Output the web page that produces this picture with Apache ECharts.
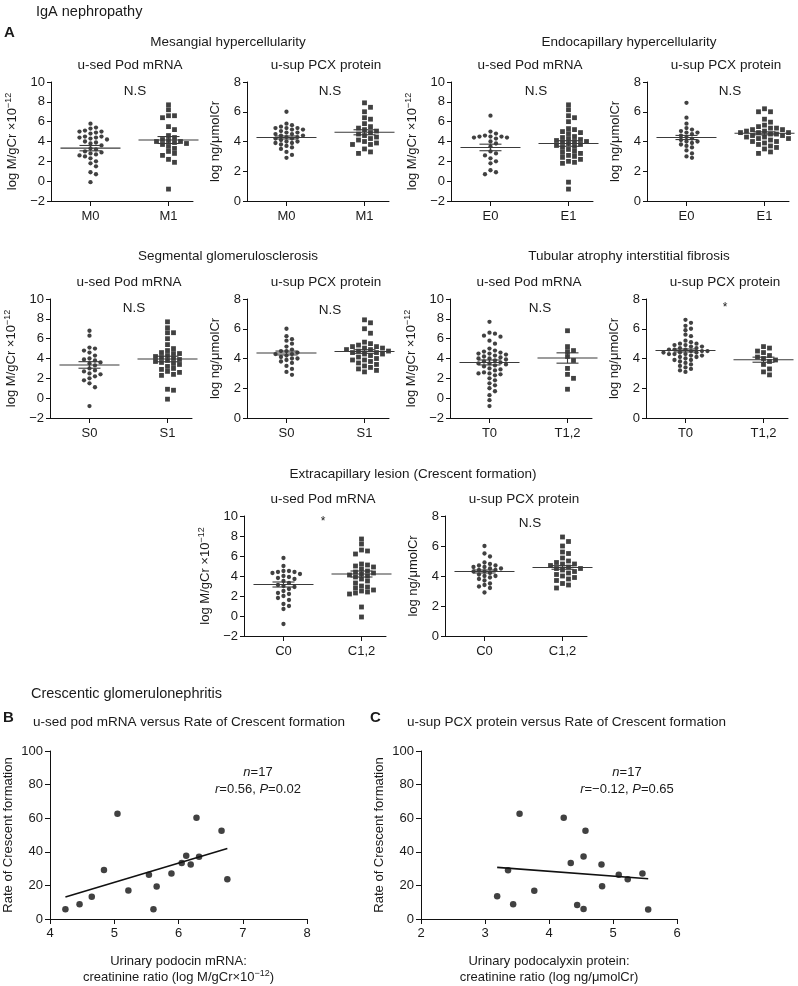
<!DOCTYPE html>
<html><head><meta charset="utf-8">
<script src="https://cdn.jsdelivr.net/npm/echarts@6/dist/echarts.min.js"></script>
<style>html,body{margin:0;padding:0;background:#fff}#c{width:798px;height:986px}</style>
</head><body><div id="c"></div>
<script>
// ---------- categories ----------
const catM = ['M0', 'M1'];
const catE = ['E0', 'E1'];
const catS = ['S0', 'S1'];
const catT = ['T0', 'T1,2'];
const catC = ['C0', 'C1,2'];
// ---------- u-sed Pod mRNA (log M/gCr x10^-12) ----------
const podM0 = [5.8,5.4,5.3,5.1,5.0,5.0,4.9,4.8,4.5,4.5,4.4,4.4,4.3,4.2,4.0,3.9,3.8,3.6,3.3,3.2,3.0,2.9,2.8,2.7,2.6,2.5,2.3,2.0,1.8,1.5,0.9,0.7,-0.1];
const podM1 = [7.7,7.2,6.6,6.6,6.4,5.5,5.2,4.6,4.4,4.2,4.1,4.0,4.0,3.9,3.8,3.7,3.5,3.3,3.0,2.8,2.6,2.2,1.9,-0.8];
const podE0 = [6.6,5.0,4.8,4.6,4.5,4.5,4.5,4.4,4.4,4.3,4.0,3.8,3.5,3.0,2.8,2.6,2.3,2.0,1.8,1.1,0.9,0.7];
const podE1 = [7.7,7.2,6.6,6.4,6.0,5.3,5.2,5.0,4.9,4.8,4.5,4.4,4.3,4.2,4.1,4.0,4.0,3.9,3.8,3.7,3.6,3.5,3.4,3.2,3.0,2.9,2.8,2.6,2.5,2.4,2.2,2.0,1.9,1.8,-0.1,-0.8];
const podS0 = [6.8,6.3,5.1,5.0,4.8,4.6,4.3,4.0,3.9,3.8,3.6,3.5,3.3,3.0,2.8,2.7,2.5,2.4,2.2,2.0,1.8,1.5,1.1,-0.8];
const podS1 = [7.7,7.1,6.6,6.6,6.0,5.4,5.0,4.8,4.6,4.5,4.5,4.3,4.2,4.1,4.0,3.9,3.8,3.7,3.6,3.5,3.4,3.2,3.0,2.9,2.7,2.6,2.4,2.3,0.9,0.8,-0.1];
const podT0 = [7.7,6.6,6.5,6.3,6.2,5.8,5.5,5.0,4.8,4.7,4.6,4.5,4.5,4.4,4.3,4.2,4.1,4.0,4.0,3.9,3.8,3.7,3.6,3.5,3.5,3.4,3.3,3.2,3.0,2.9,2.8,2.6,2.5,2.5,2.4,2.3,2.0,1.8,1.5,1.3,1.0,0.7,0.3,-0.2,-0.8];
const podT1 = [6.8,5.2,4.8,4.7,4.2,3.8,3.0,2.4,2.0,0.9];
const podC0 = [5.8,5.0,4.5,4.5,4.4,4.4,4.3,4.2,4.0,3.9,3.8,3.7,3.5,3.3,3.1,3.0,2.9,2.7,2.5,2.3,2.2,2.0,1.8,1.6,1.2,1.0,0.7,-0.8];
const podC1 = [7.7,7.2,6.6,6.5,6.2,5.2,5.1,5.0,4.9,4.7,4.5,4.4,4.3,4.2,4.1,4.0,3.9,3.7,3.5,3.3,3.0,2.9,2.8,2.6,2.5,2.4,2.3,2.2,0.9,-0.1];
// ---------- u-sup PCX protein (log ng/umolCr) ----------
const pcxM0 = [6.0,5.2,5.1,5.0,4.9,4.9,4.9,4.8,4.8,4.7,4.6,4.6,4.5,4.5,4.4,4.4,4.3,4.3,4.2,4.2,4.1,4.0,4.0,3.9,3.9,3.8,3.7,3.6,3.5,3.3,3.1,2.9];
const pcxM1 = [6.6,6.3,6.0,5.6,5.5,5.2,5.0,4.9,4.8,4.7,4.6,4.5,4.4,4.3,4.2,4.1,4.0,3.9,3.8,3.8,3.5,3.3,3.2];
const pcxE0 = [6.6,5.6,5.2,4.9,4.8,4.7,4.6,4.6,4.5,4.4,4.3,4.2,4.1,4.0,4.0,3.9,3.8,3.7,3.6,3.4,3.2,3.0,2.9];
const pcxE1 = [6.2,6.0,6.0,5.5,5.3,5.1,5.0,4.9,4.9,4.8,4.8,4.7,4.7,4.6,4.6,4.6,4.5,4.5,4.5,4.4,4.4,4.3,4.3,4.2,4.2,4.1,4.0,4.0,3.9,3.8,3.7,3.6,3.5,3.3,3.2];
const pcxS0 = [6.0,5.5,5.3,5.2,5.0,4.8,4.6,4.5,4.5,4.4,4.3,4.3,4.2,4.1,4.0,4.0,3.9,3.8,3.7,3.5,3.3,3.1,2.9];
const pcxS1 = [6.6,6.4,6.0,5.7,5.1,5.0,4.9,4.8,4.8,4.7,4.7,4.6,4.6,4.5,4.5,4.4,4.4,4.3,4.3,4.2,4.1,4.0,3.9,3.9,3.8,3.7,3.6,3.5,3.4,3.3,3.2,3.1];
const pcxT0 = [6.6,6.4,6.2,6.0,5.9,5.6,5.5,5.2,5.1,5.0,5.0,4.9,4.9,4.8,4.8,4.7,4.7,4.6,4.6,4.6,4.5,4.5,4.5,4.4,4.4,4.4,4.3,4.3,4.3,4.2,4.2,4.1,4.1,4.0,3.9,3.9,3.8,3.7,3.6,3.5,3.4,3.3,3.2,3.1];
const pcxT1 = [4.8,4.7,4.5,4.4,4.2,4.1,4.0,3.9,3.8,3.6,3.3,3.1,2.9];
const pcxC0 = [6.0,5.5,5.3,4.9,4.8,4.7,4.7,4.6,4.6,4.5,4.5,4.4,4.4,4.3,4.3,4.2,4.1,4.0,4.0,3.9,3.8,3.7,3.5,3.4,3.3,3.2,2.9];
const pcxC1 = [6.6,6.3,6.0,5.6,5.5,5.2,5.0,4.9,4.8,4.8,4.7,4.6,4.5,4.5,4.4,4.3,4.2,4.1,4.0,3.9,3.8,3.7,3.5,3.4,3.2];
// ---------- mean, SEM ----------
const statPodM = [[3.33,0.27],[4.15,0.35]];
const statPcxM = [[4.27,0.10],[4.62,0.17]];
const statPodE = [[3.40,0.33],[3.80,0.28]];
const statPcxE = [[4.27,0.14],[4.55,0.10]];
const statPodS = [[3.35,0.33],[3.95,0.28]];
const statPcxS = [[4.37,0.13],[4.47,0.12]];
const statPodT = [[3.60,0.25],[4.05,0.52]];
const statPcxT = [[4.54,0.10],[3.92,0.17]];
const statPodC = [[3.15,0.25],[4.20,0.30]];
const statPcxC = [[4.30,0.10],[4.57,0.12]];
// ---------- significance labels [pod, pcx] ----------
const sigM = ['N.S', 'N.S'];
const sigE = ['N.S', 'N.S'];
const sigS = ['N.S', 'N.S'];
const sigT = ['N.S', '*'];
const sigC = ['*', 'N.S'];
// ---------- crescentic GN scatter ----------
const crescB = [[4.24,5.8],[4.46,8.8],[4.65,13.3],[4.84,29.2],[5.05,62.6],[5.22,17.0],[5.54,26.3],[5.66,19.3],[5.61,5.8],[5.89,27.1],[6.05,33.3],[6.12,37.6],[6.19,32.4],[6.28,60.2],[6.32,37.0],[6.67,52.6],[6.76,23.6]];
const crescC = [[3.19,13.5],[3.36,29.0],[3.44,8.8],[3.54,62.6],[3.77,16.8],[4.23,60.2],[4.34,33.3],[4.44,8.4],[4.54,6.0],[4.54,37.2],[4.57,52.6],[4.82,32.4],[4.83,19.5],[5.09,26.3],[5.23,23.6],[5.46,27.1],[5.55,5.7]];
const statsB = ['17', '0.56', '0.02'];
const statsC = ['17', '\u22120.12', '0.65'];

// ---------- layout ----------
const FONT = 'Liberation Sans, Arial, sans-serif';
const TXT = '#1a1a1a';
const GW = 142, XMIN = -0.506, XMAX = 1.314;
const panels = [
  {left:51,  top:82,  h:119, kind:'pod', cats:catM, g:[podM0,podM1], st:statPodM, sig:sigM[0], sx:135, sy:91},
  {left:247, top:82,  h:119, kind:'pcx', cats:catM, g:[pcxM0,pcxM1], st:statPcxM, sig:sigM[1], sx:330, sy:91},
  {left:451, top:82,  h:119, kind:'pod', cats:catE, g:[podE0,podE1], st:statPodE, sig:sigE[0], sx:536, sy:91},
  {left:647, top:82,  h:119, kind:'pcx', cats:catE, g:[pcxE0,pcxE1], st:statPcxE, sig:sigE[1], sx:730, sy:91},
  {left:50,  top:299, h:119, kind:'pod', cats:catS, g:[podS0,podS1], st:statPodS, sig:sigS[0], sx:134, sy:308},
  {left:247, top:299, h:119, kind:'pcx', cats:catS, g:[pcxS0,pcxS1], st:statPcxS, sig:sigS[1], sx:330, sy:310},
  {left:450, top:299, h:119, kind:'pod', cats:catT, g:[podT0,podT1], st:statPodT, sig:sigT[0], sx:540, sy:308},
  {left:646, top:299, h:119, kind:'pcx', cats:catT, g:[pcxT0,pcxT1], st:statPcxT, sig:sigT[1], sx:725, sy:308},
  {left:244, top:516, h:120, kind:'pod', cats:catC, g:[podC0,podC1], st:statPodC, sig:sigC[0], sx:323, sy:522},
  {left:445, top:516, h:120, kind:'pcx', cats:catC, g:[pcxC0,pcxC1], st:statPcxC, sig:sigC[1], sx:530, sy:523}
];

// beeswarm layout: rectangular collision box (dx, dy in px)
function swarm(vals, center, pxPerX, pxPerY, dx, dy) {
  const placed = [], out = [];
  const order = vals.map((v, i) => i).sort((a, b) => vals[b] - vals[a]);
  for (const i of order) {
    const y = vals[i] * pxPerY;
    let best = 0;
    for (let k = 0; k < 600; k++) {
      const off = (k % 2 === 1 ? 1 : -1) * Math.ceil(k / 2) * 0.5;
      if (placed.every(p => Math.abs(p.x - off) >= dx || Math.abs(p.y - y) >= dy)) { best = off; break; }
    }
    placed.push({x: best, y});
    out.push([center + best / pxPerX, vals[i]]);
  }
  return out;
}
function fit(pts) {
  const n = pts.length;
  const mx = pts.reduce((s, p) => s + p[0], 0) / n, my = pts.reduce((s, p) => s + p[1], 0) / n;
  let sxy = 0, sxx = 0;
  pts.forEach(p => { sxy += (p[0] - mx) * (p[1] - my); sxx += (p[0] - mx) ** 2; });
  const b = sxy / sxx, a = my - b * mx;
  const xs = pts.map(p => p[0]);
  const x0 = Math.min(...xs), x1 = Math.max(...xs);
  return [[x0, a + b * x0], [x1, a + b * x1]];
}
const minusFmt = v => (v < 0 ? '\u2212' + Math.abs(v) : String(v));

const grid = [], xAxis = [], yAxis = [], series = [], graphic = [];
const axisLine = {show: true, onZero: false, lineStyle: {color: '#111', width: 1}};
const axisTick = {show: true, length: 4, lineStyle: {color: '#111', width: 1}};

function T(text, x, y, size, opts) {
  opts = opts || {};
  return {type: 'text', x, y, z: 10, silent: true,
    style: Object.assign({text, fill: TXT, font: (opts.weight || 'normal') + ' ' + size + 'px ' + FONT,
      textAlign: opts.align || 'center', textVerticalAlign: 'middle'}, opts.style || {})};
}

panels.forEach((p, i) => {
  const pod = p.kind === 'pod';
  const ymin = pod ? -2 : 0, ymax = pod ? 10 : 8;
  grid.push({left: p.left, top: p.top, width: GW, height: p.h});
  xAxis.push({
    type: 'value', gridIndex: i, min: XMIN, max: XMAX, splitLine: {show: false},
    axisLine, axisTick: Object.assign({}, axisTick, {customValues: [0, 1], length: 5}),
    axisLabel: {customValues: [0, 1], formatter: v => p.cats[Math.round(v)], color: TXT, fontSize: 13, fontFamily: FONT, margin: 9}
  });
  yAxis.push({
    type: 'value', gridIndex: i, min: ymin, max: ymax, interval: 2, splitLine: {show: false},
    axisLine, axisTick,
    axisLabel: {color: TXT, fontSize: 13, fontFamily: FONT, margin: 6, formatter: minusFmt},
    name: pod ? 'log M/gCr \u00d710{sup|\u221212}' : 'log ng/\u03bcmolCr',
    nameLocation: 'middle', nameGap: pod ? 30 : 25, nameRotate: 90,
    nameTextStyle: {color: TXT, fontSize: 13, fontFamily: FONT, rich: {sup: {fontSize: 9, fontFamily: FONT, color: TXT, verticalAlign: 'top', padding: [0, 0, 8, 0]}}}
  });
  const pxX = GW / (XMAX - XMIN), pxY = p.h / (ymax - ymin);
  series.push({type: 'scatter', xAxisIndex: i, yAxisIndex: i, symbol: 'circle', symbolSize: 4.3,
    itemStyle: {color: '#111'}, data: swarm(p.g[0], 0, pxX, pxY, 5.2, 4.4), z: 2});
  series.push({type: 'scatter', xAxisIndex: i, yAxisIndex: i, symbol: 'rect', symbolSize: 4.8,
    itemStyle: {color: '#111'}, data: swarm(p.g[1], 1, pxX, pxY, 5.8, 4.9), z: 2});
  series.push({type: 'custom', xAxisIndex: i, yAxisIndex: i, z: 3,
    data: p.st.map((s, k) => [k, s[0], s[1]]),
    renderItem: (params, api) => {
      const x = api.value(0), m = api.value(1), s = api.value(2);
      const c = api.coord([x, m]), hi = api.coord([x, m + s]), lo = api.coord([x, m - s]);
      const st = {stroke: '#3a3a3a', lineWidth: 1.1};
      return {type: 'group', children: [
        {type: 'line', shape: {x1: c[0] - 30, y1: c[1], x2: c[0] + 30, y2: c[1]}, style: st},
        {type: 'line', shape: {x1: c[0] - 11, y1: hi[1], x2: c[0] + 11, y2: hi[1]}, style: st},
        {type: 'line', shape: {x1: c[0] - 11, y1: lo[1], x2: c[0] + 11, y2: lo[1]}, style: st},
        {type: 'line', shape: {x1: c[0], y1: hi[1], x2: c[0], y2: lo[1]}, style: st}
      ]};
    }
  });
  graphic.push(T(pod ? 'u-sed Pod mRNA' : 'u-sup PCX protein', p.left + 79, p.top - 17, 13.5));
  graphic.push(T(p.sig, p.sx, p.sy, p.sig === '*' ? 12 : 13.5));
});

// scatter B and C
const sc = [
  {left: 50, width: 257, xmin: 4, xmax: 8, data: crescB,
   xname: 'Urinary podocin mRNA:\ncreatinine ratio (log M/gCr\u00d710{sup|\u221212})'},
  {left: 421, width: 256, xmin: 2, xmax: 6, data: crescC,
   xname: 'Urinary podocalyxin protein:\ncreatinine ratio (log ng/\u03bcmolCr)'}
];
sc.forEach((s, j) => {
  const i = panels.length + j;
  grid.push({left: s.left, top: 751, width: s.width, height: 171});
  xAxis.push({type: 'value', gridIndex: i, min: s.xmin, max: s.xmax, interval: 1, splitLine: {show: false},
    axisLine, axisTick: Object.assign({}, axisTick, {length: 5}),
    axisLabel: {color: TXT, fontSize: 13, fontFamily: FONT, margin: 8},
    name: s.xname, nameLocation: 'middle', nameGap: 34,
    nameTextStyle: {color: TXT, fontSize: 13, fontFamily: FONT, lineHeight: 16,
      rich: {sup: {fontSize: 9, fontFamily: FONT, color: TXT, verticalAlign: 'top', padding: [0, 0, 8, 0]}}}
  });
  yAxis.push({type: 'value', gridIndex: i, min: 0, max: 100, interval: 20, splitLine: {show: false},
    axisLine, axisTick: Object.assign({}, axisTick, {length: 5}),
    axisLabel: {color: TXT, fontSize: 13, fontFamily: FONT, margin: 7},
    name: 'Rate of Crescent formation', nameLocation: 'middle', nameGap: 35, nameRotate: 90,
    nameTextStyle: {color: TXT, fontSize: 13, fontFamily: FONT}
  });
  series.push({type: 'scatter', xAxisIndex: i, yAxisIndex: i, symbol: 'circle', symbolSize: 6.5,
    itemStyle: {color: '#111'}, data: s.data});
  series.push({type: 'line', xAxisIndex: i, yAxisIndex: i, symbol: 'none', data: fit(s.data),
    lineStyle: {color: '#111', width: 1.6}});
});

graphic.push(T('IgA nephropathy', 36, 12, 14.5, {align: 'left'}));
graphic.push(T('A', 4, 33, 15, {align: 'left', weight: 'bold'}));
graphic.push(T('Mesangial hypercellularity', 228, 42, 13.5));
graphic.push(T('Endocapillary hypercellularity', 629, 42, 13.5));
graphic.push(T('Segmental glomerulosclerosis', 228, 256, 13.5));
graphic.push(T('Tubular atrophy interstitial fibrosis', 629, 256, 13.5));
graphic.push(T('Extracapillary lesion (Crescent formation)', 413, 474, 13.5));
graphic.push(T('Crescentic glomerulonephritis', 31, 694, 14.5, {align: 'left'}));
graphic.push(T('B', 3, 718, 15, {align: 'left', weight: 'bold'}));
graphic.push(T('C', 370, 718, 15, {align: 'left', weight: 'bold'}));
graphic.push(T('u-sed pod mRNA versus Rate of Crescent formation', 33, 722, 13.5, {align: 'left'}));
graphic.push(T('u-sup PCX protein versus Rate of Crescent formation', 407, 722, 13.5, {align: 'left'}));
const richI = {i: {fontStyle: 'italic', fontSize: 13, fontFamily: FONT, fill: TXT}};
[[statsB, 258], [statsC, 627]].forEach(([st, cx]) => {
  graphic.push(T('{i|n}=' + st[0], cx, 772, 13, {style: {rich: richI}}));
  graphic.push(T('{i|r}=' + st[1] + ', {i|P}=' + st[2], cx, 789, 13, {style: {rich: richI}}));
});

const chart = echarts.init(document.getElementById('c'), null, {renderer: 'canvas'});
chart.setOption({animation: false, backgroundColor: '#fff', textStyle: {fontFamily: FONT},
  grid, xAxis, yAxis, series, graphic});
</script></body></html>
